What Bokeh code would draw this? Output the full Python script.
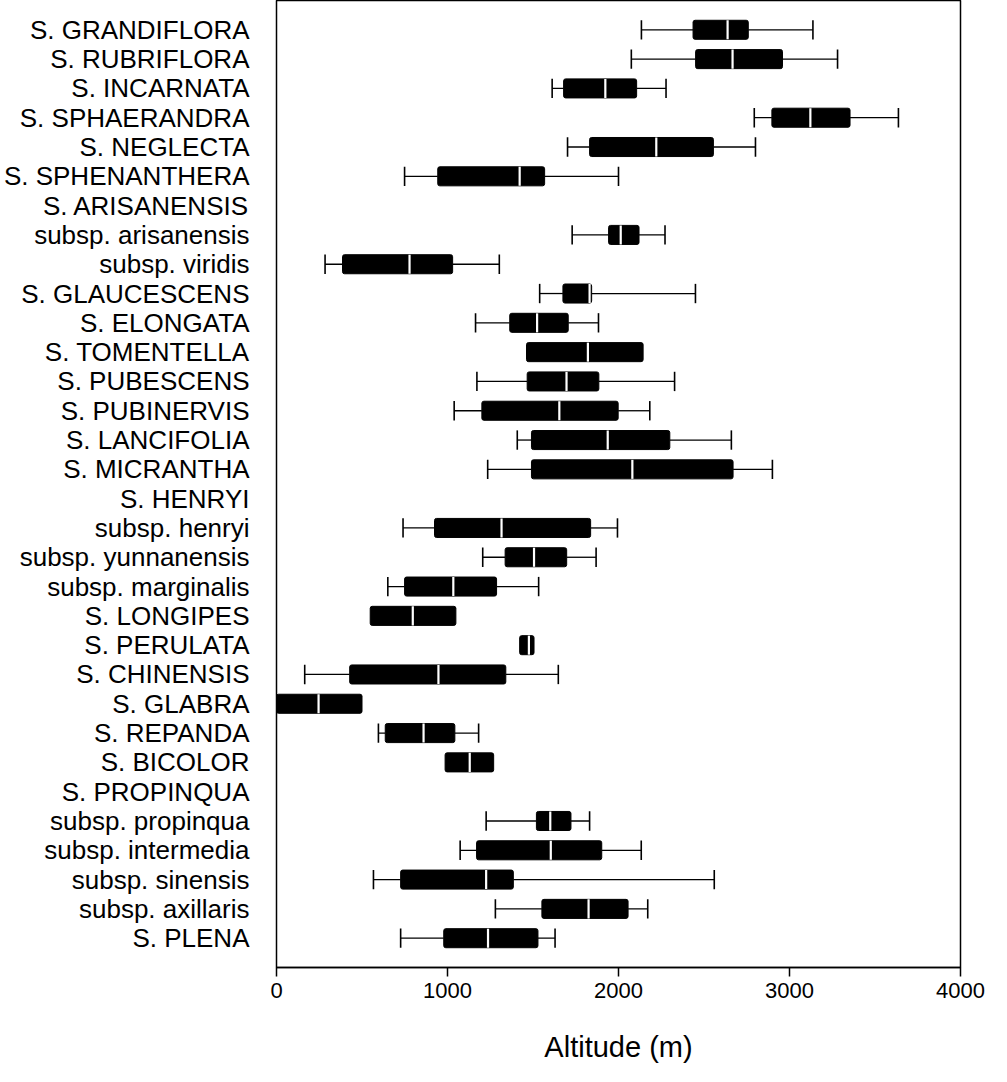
import math
from bokeh.plotting import figure
from bokeh.models import Range1d, FixedTicker, ColumnDataSource
from bokeh.embed import file_html
from bokeh.resources import INLINE

nan = float("nan")

labels = ["S. GRANDIFLORA", "S. RUBRIFLORA", "S. INCARNATA", "S. SPHAERANDRA",
          "S. NEGLECTA", "S. SPHENANTHERA", "S. ARISANENSIS", "subsp. arisanensis",
          "subsp. viridis", "S. GLAUCESCENS", "S. ELONGATA", "S. TOMENTELLA",
          "S. PUBESCENS", "S. PUBINERVIS", "S. LANCIFOLIA", "S. MICRANTHA",
          "S. HENRYI", "subsp. henryi", "subsp. yunnanensis", "subsp. marginalis",
          "S. LONGIPES", "S. PERULATA", "S. CHINENSIS", "S. GLABRA", "S. REPANDA",
          "S. BICOLOR", "S. PROPINQUA", "subsp. propinqua", "subsp. intermedia",
          "subsp. sinensis", "subsp. axillaris", "S. PLENA"]

whisker_low = [2134, 2075, 1612, 2794, 1702, 749, nan, 1729, 284, 1539, 1164, nan,
               1172, 1039, 1408, 1235, nan, 740, 1206, 651, nan, nan, 165, nan,
               596, nan, nan, 1226, 1074, 567, 1280, 726]
q1 = [2436, 2451, 1679, 2897, 1831, 943, nan, 1942, 386, 1675, 1364, 1462,
      1466, 1201, 1491, 1491, nan, 924, 1337, 749, 548, 1422, 428, 0,
      636, 986, nan, 1520, 1170, 726, 1552, 978]
median = [2638, 2667, 1923, 3122, 2221, 1422, nan, 2013, 778, 1831, 1524, 1821,
          1696, 1654, 1937, 2081, nan, 1316, 1506, 1034, 797, 1476, 947, 246,
          860, 1130, nan, 1601, 1604, 1226, 1825, 1237]
q3 = [2759, 2959, 2106, 3354, 2555, 1568, nan, 2120, 1030, 1843, 1706, 2144,
      1885, 1998, 2300, 2670, nan, 1837, 1697, 1287, 1049, 1506, 1341, 500,
      1043, 1270, nan, 1722, 1902, 1385, 2056, 1529]
whisker_high = [3137, 3281, 2278, 3637, 2801, 2000, nan, 2272, 1303, 2450, 1883, nan,
                2328, 2183, 2660, 2900, nan, 1994, 1869, 1533, nan, nan, 1648, nan,
                1182, nan, nan, 1831, 2133, 2560, 2171, 1629]

x_ticks = [0, 1000, 2000, 3000, 4000]

FONT = "Liberation Sans"
pos = list(range(1, len(labels) + 1))
BOX_H = 0.65
CAP_H = 0.66

p = figure(width=990, height=1074, output_backend="svg", toolbar_location=None,
           x_range=Range1d(0, 4000), y_range=Range1d(len(labels) + 1, 0),
           min_border_left=266, min_border_right=30, min_border_top=0,
           min_border_bottom=107)
p.grid.visible = False
p.background_fill_color = "white"
p.border_fill_color = "white"
p.outline_line_color = "black"
p.outline_line_width = 1.5

# boxes
bx = dict(y=[], l=[], r=[], m=[])
for i in range(len(labels)):
    if math.isnan(q1[i]):
        continue
    bx["y"].append(pos[i]); bx["l"].append(q1[i]); bx["r"].append(q3[i]); bx["m"].append(median[i])
bsrc = ColumnDataSource(dict(y=bx["y"], left=bx["l"], right=bx["r"], med=bx["m"],
                             top=[v - BOX_H / 2 for v in bx["y"]],
                             bottom=[v + BOX_H / 2 for v in bx["y"]]))

# whiskers
wx0, wx1, wy, cx, cy0, cy1 = [], [], [], [], [], []
for i in range(len(labels)):
    if not math.isnan(whisker_low[i]):
        wx0.append(whisker_low[i]); wx1.append(q1[i]); wy.append(pos[i])
        cx.append(whisker_low[i]); cy0.append(pos[i] - CAP_H / 2); cy1.append(pos[i] + CAP_H / 2)
    if not math.isnan(whisker_high[i]):
        wx0.append(q3[i]); wx1.append(whisker_high[i]); wy.append(pos[i])
        cx.append(whisker_high[i]); cy0.append(pos[i] - CAP_H / 2); cy1.append(pos[i] + CAP_H / 2)

p.segment(x0=wx0, x1=wx1, y0=wy, y1=wy, line_color="black", line_width=1.3)
p.segment(x0=cx, x1=cx, y0=cy0, y1=cy1, line_color="black", line_width=1.6)
p.quad(left="left", right="right", top="top", bottom="bottom", source=bsrc,
       fill_color="black", line_color="black", line_width=1, border_radius=2)
p.segment(x0="med", x1="med", y0="top", y1="bottom", source=bsrc,
          line_color="white", line_width=2.2)

# x axis
xa = p.xaxis[0]
xa.ticker = FixedTicker(ticks=x_ticks)
xa.minor_tick_line_color = None
xa.major_tick_in = 0
xa.major_tick_out = 9
xa.major_tick_line_width = 1.5
xa.axis_line_width = 1.5
xa.major_label_standoff = 6
xa.major_label_text_font = FONT
xa.major_label_text_font_size = "22px"
xa.major_label_text_color = "black"
xa.axis_label = "Altitude (m)"
xa.axis_label_text_font = FONT
xa.axis_label_text_font_size = "29px"
xa.axis_label_text_font_style = "normal"
xa.axis_label_text_color = "black"
xa.axis_label_standoff = 30

# y axis
ya = p.yaxis[0]
ya.ticker = FixedTicker(ticks=pos)
ya.major_label_overrides = {k: lab for k, lab in zip(pos, labels)}
ya.major_tick_line_color = None
ya.minor_tick_line_color = None
ya.axis_line_color = None
ya.major_label_standoff = 21
ya.major_label_text_font = FONT
ya.major_label_text_font_size = "26px"
ya.major_label_text_color = "black"

open("out.html", "w").write(file_html(p, INLINE))
